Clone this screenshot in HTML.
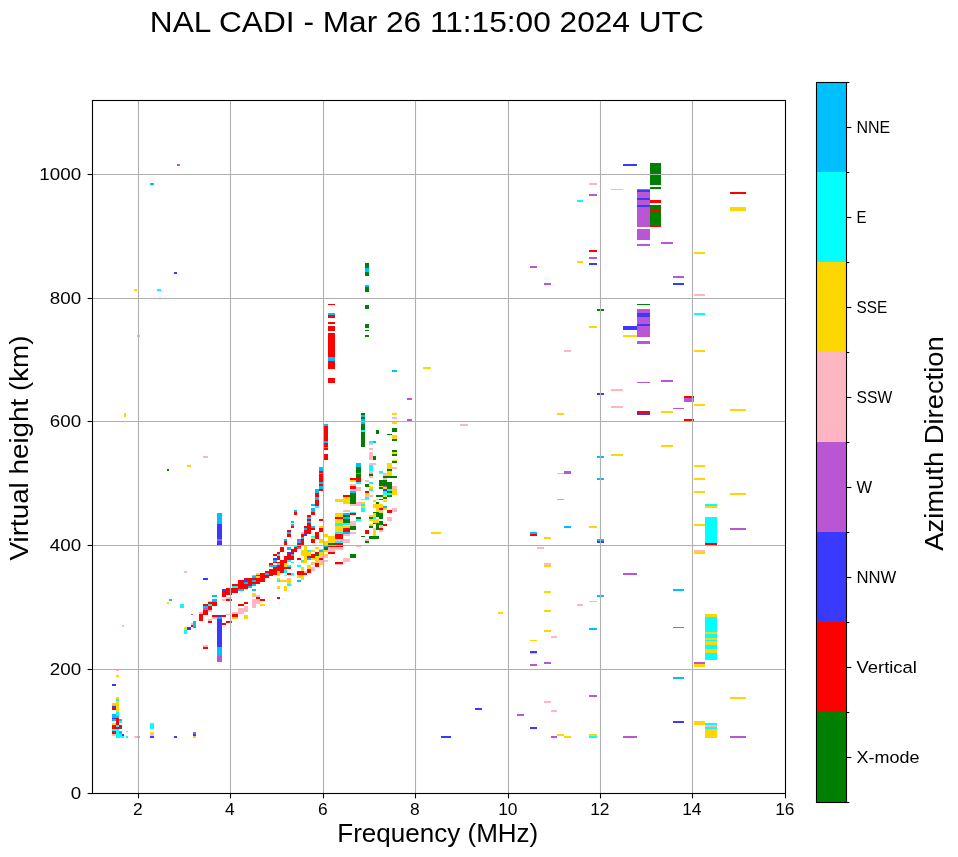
<!DOCTYPE html><html><head><meta charset="utf-8"><style>html,body{margin:0;padding:0;background:#fff;width:958px;height:857px;overflow:hidden}text{font-family:"Liberation Sans",sans-serif} svg{will-change:transform}</style></head><body><svg width="958" height="857" viewBox="0 0 958 857" style="display:block"><rect width="958" height="857" fill="#fff"/><g shape-rendering="crispEdges"><path fill="#ba55d3" d="M177 164h3v2h-3zM297 539h4v2h-4zM297 547h4v2h-4zM217 539h5v2h-5zM191 614h2v1h-2zM193 627h3v1h-3zM203 608h5v2h-5zM217 656h5v6h-5zM383 486h4v1h-4zM407 398h5v2h-5zM407 419h5v2h-5zM530 266h7v2h-7zM544 283h7v2h-7zM637 189h13v38h-13zM637 229h13v11h-13zM637 244h13v2h-13zM661 242h12v2h-12zM589 194h8v2h-8zM589 257h8v2h-8zM673 276h11v2h-11zM637 309h13v28h-13zM637 341h13v3h-13zM637 382h13v1h-13zM661 380h12v2h-12zM684 398h10v4h-10zM673 408h11v1h-11zM564 471h7v3h-7zM730 528h16v2h-16zM623 573h14v2h-14zM530 664h7v2h-7zM544 662h7v2h-7zM589 695h8v2h-8zM517 714h7v2h-7zM551 736h6v2h-6zM623 736h14v2h-14zM673 627h11v1h-11zM694 662h11v2h-11zM730 736h16v2h-16zM193 732h3v2h-3z"/><path fill="#00bfff" d="M150 183h4v2h-4zM169 599h3v2h-3zM365 268h4v4h-4zM365 285h4v2h-4zM328 313h7v2h-7zM328 357h7v4h-7zM361 415h4v2h-4zM361 419h4v5h-4zM324 424h4v2h-4zM324 441h4v2h-4zM324 447h4v1h-4zM319 467h4v4h-4zM319 473h4v1h-4zM319 482h4v2h-4zM319 486h4v3h-4zM315 489h4v4h-4zM307 517h4v2h-4zM307 521h4v2h-4zM311 504h4v2h-4zM311 508h4v4h-4zM315 497h4v3h-4zM294 510h3v2h-3zM291 521h3v2h-3zM291 524h3v2h-3zM284 539h3v2h-3zM287 532h4v2h-4zM287 547h4v3h-4zM291 554h3v2h-3zM297 541h4v2h-4zM265 573h4v2h-4zM269 565h4v2h-4zM273 560h4v2h-4zM273 565h4v2h-4zM297 580h4v2h-4zM238 589h6v2h-6zM244 582h4v2h-4zM248 586h4v2h-4zM252 576h4v2h-4zM252 580h4v2h-4zM252 584h4v2h-4zM252 589h4v2h-4zM217 513h5v11h-5zM193 621h3v6h-3zM203 606h5v2h-5zM212 599h5v3h-5zM212 595h5v2h-5zM217 617h5v2h-5zM217 647h5v9h-5zM301 537h3v2h-3zM304 528h3v2h-3zM307 558h4v2h-4zM311 526h4v2h-4zM319 550h4v2h-4zM324 546h4v1h-4zM343 532h7v2h-7zM343 513h7v2h-7zM343 517h7v2h-7zM350 491h6v2h-6zM356 463h5v4h-5zM356 473h5v1h-5zM383 506h4v2h-4zM373 441h3v2h-3zM392 370h5v2h-5zM597 456h7v2h-7zM597 478h7v2h-7zM564 526h7v2h-7zM530 532h7v2h-7zM597 539h7v2h-7zM597 595h7v2h-7zM589 628h8v2h-8zM673 589h11v2h-11zM673 677h11v2h-11zM112 714h4v4h-4zM116 716h3v2h-3zM112 718.5h4v2.5h-4zM119 719h3v2h-3zM119 731h3v3h-3z"/><path fill="#3a3aff" d="M174 272h3v2h-3zM203 578h5v2h-5zM273 558h4v2h-4zM287 552h4v2h-4zM244 580h4v2h-4zM217 524h5v15h-5zM217 541h5v4h-5zM222 589h4v2h-4zM187 627h4v3h-4zM217 615h5v2h-5zM217 619h5v28h-5zM304 534h3v2h-3zM383 490h4v1h-4zM383 489h4v1h-4zM475 708h7v2h-7zM441 736h10v2h-10zM623 164h14v2h-14zM637 190h13v2h-13zM637 198h13v2h-13zM637 205h13v2h-13zM589 263h8v2h-8zM673 283h11v2h-11zM637 313h13v4h-13zM637 324h13v2h-13zM623 326h14v4h-14zM597 393h7v2h-7zM637 413h13v2h-13zM597 541h7v2h-7zM530 651h7v2h-7zM530 727h7v2h-7zM673 721h11v2h-11zM112 684h4v2h-4zM112 706h4v2h-4zM112 718h4v1h-4zM119 727h3v2h-3zM122 734h2v2h-2zM150 736h4v2h-4zM174 736h3v2h-3zM193 734h3v2h-3z"/><path fill="#ffd700" d="M134 289h3v2h-3zM137 335h3v2h-3zM124 413h2v4h-2zM187 465h4v2h-4zM167 602h2v2h-2zM277 571h3v5h-3zM277 578h3v2h-3zM277 586h3v3h-3zM280 580h4v2h-4zM284 563h3v4h-3zM284 575h3v1h-3zM284 580h3v2h-3zM284 586h3v5h-3zM287 580h4v4h-4zM291 575h3v1h-3zM297 575h4v3h-4zM252 593h4v2h-4zM256 573h4v2h-4zM256 576h4v2h-4zM184 627h3v3h-3zM208 601h4v1h-4zM232 617h6v2h-6zM244 615h4v4h-4zM252 601h4v1h-4zM260 604h5v2h-5zM304 560h3v2h-3zM301 562h6v1h-6zM301 567h3v4h-3zM301 575h3v5h-3zM307 565h4v4h-4zM311 562h4v1h-4zM315 560h4v2h-4zM319 563h4v2h-4zM301 550h3v6h-3zM304 546h3v14h-3zM307 552h4v4h-4zM311 537h4v2h-4zM311 550h4v2h-4zM311 558h4v2h-4zM315 547h4v2h-4zM315 556h4v4h-4zM319 526h4v2h-4zM319 539h4v4h-4zM319 549h4v1h-4zM319 552h4v4h-4zM324 534h4v3h-4zM324 541h4v4h-4zM324 550h4v2h-4zM324 554h4v2h-4zM328 536h7v7h-7zM335 526h8v6h-8zM343 526h7v2h-7zM369 525h4v1h-4zM335 499h8v3h-8zM335 513h8v4h-8zM335 519h8v4h-8zM343 497h7v7h-7zM361 502h4v2h-4zM361 506h4v2h-4zM365 493h4v2h-4zM365 499h4v1h-4zM350 480h6v2h-6zM369 515h4v2h-4zM369 519h4v2h-4zM369 524h4v1h-4zM373 500h3v2h-3zM373 504h3v4h-3zM373 513h3v4h-3zM373 519h3v4h-3zM376 504h3v8h-3zM376 519h3v4h-3zM379 504h4v4h-4zM379 512h4v1h-4zM383 495h4v2h-4zM383 500h4v2h-4zM383 508h4v2h-4zM392 490h5v5h-5zM369 486h4v3h-4zM379 486h4v1h-4zM383 473h4v1h-4zM383 487h4v2h-4zM387 463h5v6h-5zM387 471h5v5h-5zM392 460h5v1h-5zM392 489h5v1h-5zM392 422h5v2h-5zM392 435h5v4h-5zM392 452h5v2h-5zM392 413h5v2h-5zM423 367h8v2h-8zM373 530h3v6h-3zM431 532h10v2h-10zM498 612h5v2h-5zM611 188.5h12v1.5h-12zM730 207h16v4h-16zM577 261h6v2h-6zM694 252h11v1.5h-11zM623 335h14v2h-14zM589 326h8v2h-8zM694 350h11v2h-11zM694 404h11v2h-11zM557 413h7v2h-7zM661 411h12v2h-12zM730 409h16v2h-16zM661 445h12v2h-12zM611 454h12v2h-12zM694 465h11v2h-11zM557 473h7v1h-7zM694 478h11v2h-11zM694 491h11v2h-11zM730 493h16v2h-16zM705 506h12v2h-12zM694 524h11v2h-11zM589 526h8v2h-8zM544 537h7v2h-7zM544 565h7v2h-7zM544 591h7v2h-7zM589 601h8v1h-8zM544 610h7v2h-7zM544 630h7v2h-7zM530 640h7v1h-7zM557 734h7v2h-7zM564 736h7v2h-7zM589 734h8v2h-8zM694 552h11v2h-11zM705 614h12v3h-12zM705 632h12v2h-12zM705 638h12v2h-12zM705 641h12v4h-12zM705 649h12v4h-12zM694 664h11v3h-11zM730 697h16v2h-16zM694 721h11v4h-11zM705 729h12v9h-12zM116 675h3v2h-3zM116 697h3v2h-3zM116 701h3v11h-3zM112 703h4v2h-4zM112 723h4v2h-4zM119 736h3v2h-3zM126 731h2v1h-2zM150 732h4v2h-4zM193 736h3v2h-3z"/><path fill="#00ffff" d="M157 289h4v2h-4zM361 430h4v2h-4zM315 506h4v2h-4zM277 554h3v2h-3zM294 546h3v1h-3zM277 563h3v2h-3zM277 580h3v2h-3zM284 569h3v4h-3zM287 560h4v2h-4zM287 565h4v2h-4zM287 584h4v2h-4zM291 561.5h3v1.5h-3zM291 573h3v2h-3zM297 565h4v2h-4zM232 586h6v2h-6zM252 575h4v1.3h-4zM180 604h4v4h-4zM184 630h3v4h-3zM208 604h4v2h-4zM301 560h3v2h-3zM307 550h4v2h-4zM311 536h4v1h-4zM335 525h8v1h-8zM335 532h8v2h-8zM335 541h8v2h-8zM335 523h8v2h-8zM343 523h7v2h-7zM350 512h6v1h-6zM356 519h5v2h-5zM361 504h4v2h-4zM361 508h4v4h-4zM365 497h4v2h-4zM356 482h5v2h-5zM369 490h4v1h-4zM373 517h3v2h-3zM383 491h4v4h-4zM387 490h5v1h-5zM387 493h5v2h-5zM369 465h4v6h-4zM369 473h4v1h-4zM369 482h4v2h-4zM369 489h4v1h-4zM379 471h4v2h-4zM387 489h5v1h-5zM369 441h4v2h-4zM577 200h6v2h-6zM694 313h11v2h-11zM557 499h7v1h-7zM705 504h12v2h-12zM705 517h12v26h-12zM589 736h8v2h-8zM705 617h12v15h-12zM705 634h12v4h-12zM705 640h12v1h-12zM705 645h12v4h-12zM705 653h12v7h-12zM705 723h12v2h-12zM705 727h12v2h-12zM116 699h3v2h-3zM112 705h4v1h-4zM116 712h3v4h-3zM119 721h3v2h-3zM116 725h3v2h-3zM112 729h7v2h-7zM116 731h3v7h-3zM119 733.5h3v3h-3zM122 736h2v2h-2zM126 736h2v2h-2zM137 736h3v2h-3zM150 723h4v6h-4z"/><path fill="#ffb6c1" d="M203 456h5v2h-5zM184 571h3v2h-3zM122 625h2v2h-2zM287 578h4v2h-4zM191 623h2v2h-2zM199 612h4v2h-4zM208 610h4v2h-4zM222 599h4v2h-4zM226 597h4v2h-4zM208 619h4v2h-4zM212 617h5v2h-5zM226 614h4v1h-4zM203 645h5v2h-5zM232 612h6v2h-6zM238 608h6v6h-6zM244 606h4v6h-4zM252 595h8v2h-8zM252 599h4v9h-4zM256 599h4v5h-4zM304 571h3v2h-3zM311 563h4v2h-4zM311 567h4v4h-4zM315 562h4v1h-4zM319 560h4v3h-4zM324 560h4v2h-4zM301 532h3v2h-3zM319 556h4v2h-4zM324 556h4v2h-4zM328 547h7v5h-7zM335 539h8v2h-8zM335 547h8v3h-8zM343 534h7v2h-7zM343 539h7v4h-7zM343 558h7v4h-7zM350 525h6v1h-6zM350 532h6v2h-6zM356 546h5v1h-5zM365 539h4v2h-4zM335 563h8v2h-8zM343 510h7v2h-7zM350 490h6v1h-6zM350 504h6v2h-6zM350 521h6v4h-6zM356 490h5v1h-5zM356 502h5v4h-5zM361 499h4v1h-4zM365 495h4v2h-4zM350 484h6v2h-6zM350 489h6v1h-6zM356 487h5v3h-5zM365 480h4v2h-4zM369 495h4v2h-4zM376 499h3v1h-3zM379 510h4v2h-4zM387 517h5v4h-5zM392 508h5v4h-5zM369 455h4v5h-4zM369 463h4v2h-4zM369 471h4v2h-4zM369 476h4v2h-4zM373 463h3v2h-3zM379 473h4v1h-4zM383 474h4v2h-4zM383 478h4v2h-4zM392 467h5v2h-5zM392 486h5v3h-5zM369 443h4v2h-4zM369 448h4v2h-4zM369 452h4v3h-4zM392 417h5v2h-5zM460 424h8v2h-8zM373 528h3v2h-3zM373 536h3v1h-3zM379 525h4v3h-4zM379 530h4v2h-4zM589 183h8v2h-8zM694 294h11v2h-11zM564 350h7v2h-7zM611 389h12v2h-12zM611 406h12v2h-12zM537 547h7v2h-7zM544 563h7v2h-7zM577 604h6v2h-6zM551 636h6v2h-6zM530 653h7v1h-7zM544 701h7v2h-7zM551 710h6v2h-6zM694 550h11v2h-11zM705 725h12v2h-12zM116 669.5h3v1.5h-3zM112 734h4v2h-4zM134 736h3v2h-3zM150 734h4v1.5h-4z"/><path fill="#008000" d="M167 469h2v2h-2zM365 263h4v5h-4zM365 272h4v4h-4zM365 287h4v5h-4zM365 305h4v4h-4zM365 324h4v4h-4zM365 330h4v1h-4zM365 335h4v2h-4zM361 413h4v2h-4zM361 417h4v2h-4zM361 424h4v6h-4zM361 432h4v15h-4zM315 554h4v2h-4zM324 547h4v3h-4zM328 543h7v2h-7zM350 526h6v4h-6zM350 554h6v4h-6zM361 536h4v1h-4zM365 541h4v2h-4zM369 526h4v2h-4zM369 537h4v2h-4zM343 515h7v2h-7zM343 519h7v4h-7zM350 493h6v11h-6zM356 517h5v2h-5zM356 467h5v6h-5zM356 474h5v4h-5zM365 484h4v3h-4zM369 517h4v2h-4zM373 512h3v1h-3zM376 495h3v2h-3zM376 502h3v2h-3zM376 512h3v5h-3zM376 523h3v2h-3zM379 495h4v2h-4zM379 513h4v6h-4zM379 521h4v4h-4zM383 497h4v2h-4zM387 491h5v2h-5zM387 495h5v2h-5zM369 474h4v2h-4zM373 456h3v4h-3zM379 480h4v6h-4zM379 487h4v2h-4zM383 476h4v2h-4zM383 480h4v6h-4zM387 469h5v2h-5zM387 476h5v2h-5zM387 482h5v7h-5zM392 461h5v2h-5zM392 476h5v2h-5zM376 430h3v4h-3zM387 434h5v1h-5zM392 428h5v4h-5zM392 439h5v2h-5zM392 450h5v2h-5zM392 454h5v2h-5zM376 525h3v5h-3zM369 536h10v3h-10zM650 163h11v22h-11zM650 187h11v2h-11zM650 205h11v4h-11zM650 211h11v15h-11zM597 309h7v2h-7zM637 304h13v1h-13zM373 523h3v1h-3z"/><path fill="#ff0000" d="M328 304h7v1h-7zM328 315h7v3h-7zM328 322h7v2h-7zM328 326h7v5h-7zM328 333h7v24h-7zM328 361h7v8h-7zM328 378h7v5h-7zM324 426h4v15h-4zM324 443h4v4h-4zM324 448h4v2h-4zM324 454h4v6h-4zM319 471h4v2h-4zM319 474h4v8h-4zM319 484h4v2h-4zM319 489h4v2h-4zM307 515h4v2h-4zM307 519h4v2h-4zM307 523h4v2h-4zM311 512h4v3h-4zM315 493h4v4h-4zM315 500h4v6h-4zM319 519h4v2h-4zM294 512h3v3h-3zM273 554h4v2h-4zM277 552h3v2h-3zM277 556h3v4h-3zM280 547h4v5h-4zM284 541h3v4h-3zM284 556h3v4h-3zM287 530h4v2h-4zM287 534h4v3h-4zM287 554h4v6h-4zM291 526h3v2h-3zM291 549h3v5h-3zM291 556h3v4h-3zM294 547h3v5h-3zM297 543h4v2h-4zM297 546h4v1h-4zM297 558h4v2h-4zM265 571h4v2h-4zM265 575h4v3h-4zM269 563h4v2h-4zM269 569h4v7h-4zM273 562h4v1h-4zM273 567h4v8h-4zM277 562h3v1h-3zM277 565h3v6h-3zM280 560h4v13h-4zM284 560h3v3h-3zM284 567h3v2h-3zM287 567h4v2h-4zM287 573h4v2h-4zM297 571h4v4h-4zM226 588h6v7h-6zM232 584h6v2h-6zM232 588h6v5h-6zM238 580h6v9h-6zM244 578h4v2h-4zM244 584h4v5h-4zM248 578h4v8h-4zM252 578h4v2h-4zM252 582h4v2h-4zM256 575h4v1h-4zM256 578h4v6h-4zM260 573h5v9h-5zM222 591h4v4h-4zM191 625h2v2h-2zM199 614h4v7h-4zM203 610h5v5h-5zM203 604h5v2h-5zM208 606h4v4h-4zM208 602h4v2h-4zM212 602h5v4h-5zM222 595h4v2h-4zM226 599h6v2h-6zM208 621h4v2h-4zM212 615h5v2h-5zM222 615h4v2h-4zM222 623h4v2h-4zM226 621h6v2h-6zM203 647h5v2h-5zM232 614h6v3h-6zM238 604h6v2h-6zM244 602h4v2h-4zM256 597h4v2h-4zM260 599h5v2h-5zM277 597h3v2h-3zM301 571h3v4h-3zM304 573h3v2h-3zM307 569h4v4h-4zM315 563h4v4h-4zM301 534h3v3h-3zM301 539h3v6h-3zM304 526h3v2h-3zM304 530h3v4h-3zM307 525h4v9h-4zM307 556h4v2h-4zM311 528h4v2h-4zM311 539h4v4h-4zM311 554h4v4h-4zM315 532h4v7h-4zM315 552h4v2h-4zM319 528h4v4h-4zM319 558h4v2h-4zM328 546h7v1h-7zM328 552h7v2h-7zM335 534h8v5h-8zM335 543h8v2h-8zM335 546h8v1h-8zM343 528h7v4h-7zM365 530h4v4h-4zM335 562h8v1.5h-8zM335 517h8v2h-8zM343 495h7v2h-7zM350 513h6v2h-6zM365 491h4v2h-4zM350 478h6v2h-6zM350 486h6v3h-6zM356 478h5v4h-5zM379 499h4v1h-4zM379 508h4v2h-4zM383 524h4v2h-4zM387 510h5v3h-5zM379 528h4v2h-4zM383 525h4v1h-4zM650 200h11v3h-11zM650 209h11v2h-11zM650 226h11v1h-11zM730 192h16v2h-16zM589 250h8v2h-8zM684 396h10v2h-10zM637 411h13v2h-13zM684 419h10v2h-10zM705 543h12v2h-12zM530 534h7v2h-7zM112 708h4v2h-4zM116 718h3v7h-3zM112 725h4v4h-4zM116 727h3v2h-3zM119 725h3v2h-3zM112 731h4v3h-4z"/></g><g stroke="#b0b0b0" stroke-width="1.1"><line x1="138.5" y1="100" x2="138.5" y2="793.5"/><line x1="230.5" y1="100" x2="230.5" y2="793.5"/><line x1="323.5" y1="100" x2="323.5" y2="793.5"/><line x1="415.5" y1="100" x2="415.5" y2="793.5"/><line x1="508.5" y1="100" x2="508.5" y2="793.5"/><line x1="600.5" y1="100" x2="600.5" y2="793.5"/><line x1="692.5" y1="100" x2="692.5" y2="793.5"/><line x1="92" y1="669.5" x2="785.5" y2="669.5"/><line x1="92" y1="545.5" x2="785.5" y2="545.5"/><line x1="92" y1="421.5" x2="785.5" y2="421.5"/><line x1="92" y1="298.5" x2="785.5" y2="298.5"/><line x1="92" y1="174.5" x2="785.5" y2="174.5"/></g><rect x="92.5" y="100.5" width="693" height="693" fill="none" stroke="#000" stroke-width="1.1"/><g stroke="#000" stroke-width="1.1"><line x1="138.5" y1="793.5" x2="138.5" y2="798.4"/><line x1="230.5" y1="793.5" x2="230.5" y2="798.4"/><line x1="323.5" y1="793.5" x2="323.5" y2="798.4"/><line x1="415.5" y1="793.5" x2="415.5" y2="798.4"/><line x1="508.5" y1="793.5" x2="508.5" y2="798.4"/><line x1="600.5" y1="793.5" x2="600.5" y2="798.4"/><line x1="692.5" y1="793.5" x2="692.5" y2="798.4"/><line x1="785.5" y1="793.5" x2="785.5" y2="798.4"/><line x1="87.6" y1="793.5" x2="92.5" y2="793.5"/><line x1="87.6" y1="669.5" x2="92.5" y2="669.5"/><line x1="87.6" y1="545.5" x2="92.5" y2="545.5"/><line x1="87.6" y1="421.5" x2="92.5" y2="421.5"/><line x1="87.6" y1="298.5" x2="92.5" y2="298.5"/><line x1="87.6" y1="174.5" x2="92.5" y2="174.5"/></g><g font-size="17.4" fill="#000" text-anchor="middle"><text x="137.8" y="815.2">2</text><text x="229.8" y="815.2">4</text><text x="322.8" y="815.2">6</text><text x="414.8" y="815.2">8</text><text x="507.8" y="815.2">10</text><text x="599.8" y="815.2">12</text><text x="691.8" y="815.2">14</text><text x="784.8" y="815.2">16</text></g><g font-size="17.4" fill="#000" text-anchor="end"><text x="81.1" y="799.10" transform="translate(81.10 0) scale(1.08 1) translate(-81.10 0)">0</text><text x="81.1" y="675.10" transform="translate(81.10 0) scale(1.08 1) translate(-81.10 0)">200</text><text x="81.1" y="551.10" transform="translate(81.10 0) scale(1.08 1) translate(-81.10 0)">400</text><text x="81.1" y="427.10" transform="translate(81.10 0) scale(1.08 1) translate(-81.10 0)">600</text><text x="81.1" y="304.10" transform="translate(81.10 0) scale(1.08 1) translate(-81.10 0)">800</text><text x="81.1" y="180.10" transform="translate(81.10 0) scale(1.08 1) translate(-81.10 0)">1000</text></g><rect x="816" y="82" width="31" height="90" fill="#00bfff" shape-rendering="crispEdges"/><rect x="816" y="172" width="31" height="90" fill="#00ffff" shape-rendering="crispEdges"/><rect x="816" y="262" width="31" height="90" fill="#ffd700" shape-rendering="crispEdges"/><rect x="816" y="352" width="31" height="90" fill="#ffb6c1" shape-rendering="crispEdges"/><rect x="816" y="442" width="31" height="90" fill="#ba55d3" shape-rendering="crispEdges"/><rect x="816" y="532" width="31" height="90" fill="#3a3aff" shape-rendering="crispEdges"/><rect x="816" y="622" width="31" height="90" fill="#ff0000" shape-rendering="crispEdges"/><rect x="816" y="712" width="31" height="90" fill="#008000" shape-rendering="crispEdges"/><rect x="816.5" y="82.5" width="30" height="720" fill="none" stroke="#000" stroke-width="1.1"/><g stroke="#000" stroke-width="1.1"><line x1="846.5" y1="82.5" x2="849.3" y2="82.5"/><line x1="846.5" y1="172.5" x2="849.3" y2="172.5"/><line x1="846.5" y1="262.5" x2="849.3" y2="262.5"/><line x1="846.5" y1="352.5" x2="849.3" y2="352.5"/><line x1="846.5" y1="442.5" x2="849.3" y2="442.5"/><line x1="846.5" y1="532.5" x2="849.3" y2="532.5"/><line x1="846.5" y1="622.5" x2="849.3" y2="622.5"/><line x1="846.5" y1="712.5" x2="849.3" y2="712.5"/><line x1="846.5" y1="802.5" x2="849.3" y2="802.5"/><line x1="846.5" y1="127.5" x2="851.4" y2="127.5"/><line x1="846.5" y1="217.5" x2="851.4" y2="217.5"/><line x1="846.5" y1="307.5" x2="851.4" y2="307.5"/><line x1="846.5" y1="397.5" x2="851.4" y2="397.5"/><line x1="846.5" y1="487.5" x2="851.4" y2="487.5"/><line x1="846.5" y1="577.5" x2="851.4" y2="577.5"/><line x1="846.5" y1="667.5" x2="851.4" y2="667.5"/><line x1="846.5" y1="757.5" x2="851.4" y2="757.5"/></g><g font-size="17.4" fill="#000"><text x="856.5" y="133.30" transform="translate(856.50 0) scale(0.92 1) translate(-856.50 0)">NNE</text><text x="856.5" y="223.30" transform="translate(856.50 0) scale(0.86 1) translate(-856.50 0)">E</text><text x="856.5" y="313.30" transform="translate(856.50 0) scale(0.88 1) translate(-856.50 0)">SSE</text><text x="856.5" y="403.30" transform="translate(856.50 0) scale(0.9 1) translate(-856.50 0)">SSW</text><text x="856.5" y="493.30" transform="translate(856.50 0) scale(0.95 1) translate(-856.50 0)">W</text><text x="856.5" y="583.30" transform="translate(856.50 0) scale(0.96 1) translate(-856.50 0)">NNW</text><text x="856.5" y="673.30" transform="translate(856.50 0) scale(1.06 1) translate(-856.50 0)">Vertical</text><text x="856.5" y="763.30" transform="translate(856.50 0) scale(1.034 1) translate(-856.50 0)">X-mode</text></g><text x="437.8" y="842" font-size="26.3" text-anchor="middle" transform="translate(437.80 0) scale(0.99 1) translate(-437.80 0)">Frequency (MHz)</text><g transform="translate(28,448) rotate(-90)"><text x="0" y="0" font-size="26.3" text-anchor="middle" transform="scale(1.057 1)">Virtual height (km)</text></g><g transform="translate(943,443.5) rotate(-90)"><text x="0" y="0" font-size="26.3" text-anchor="middle" transform="scale(1.04 1)">Azimuth Direction</text></g><text x="426.8" y="32" font-size="30.2" text-anchor="middle" transform="translate(426.80 0) scale(1.048 1) translate(-426.80 0)">NAL CADI - Mar 26 11:15:00 2024 UTC</text></svg></body></html>
